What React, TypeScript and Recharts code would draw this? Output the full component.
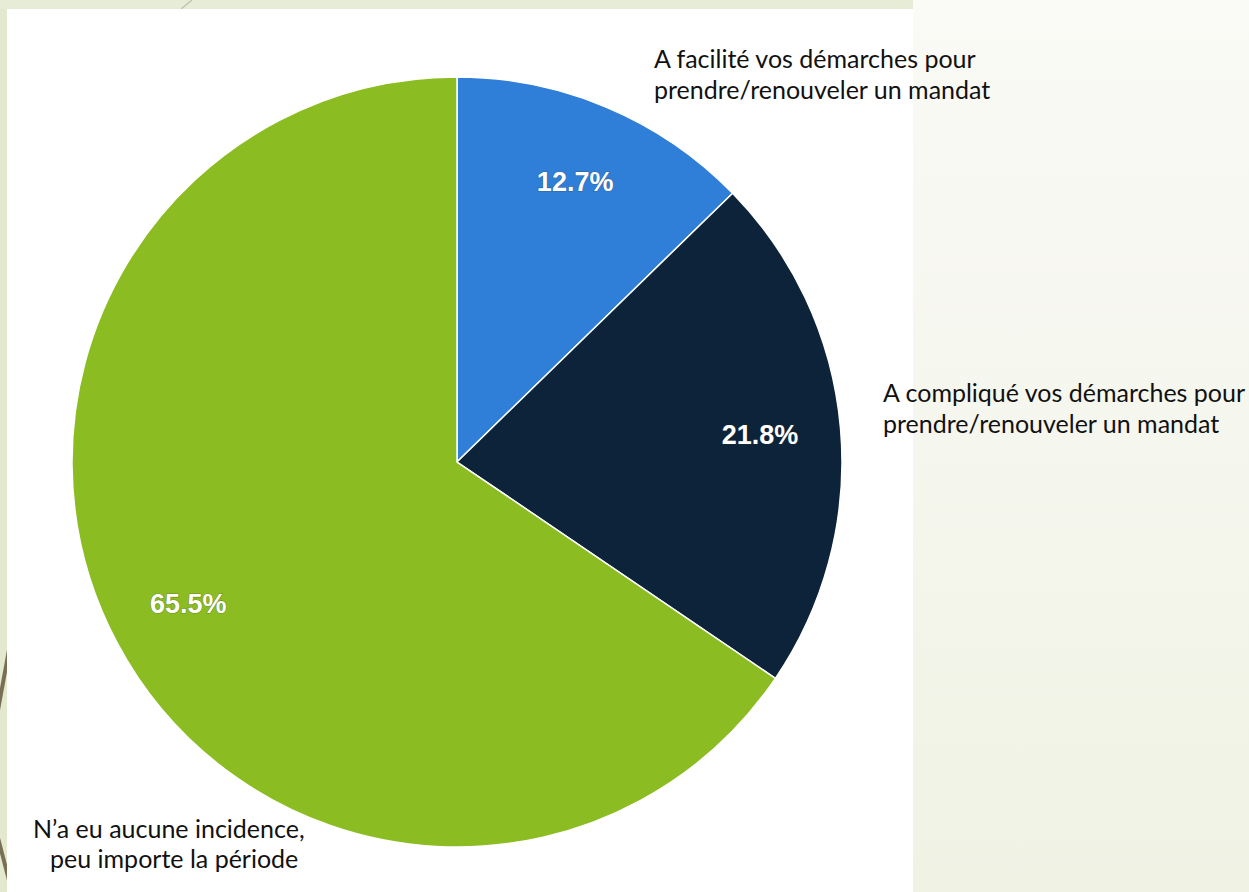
import { PieChart, Pie, Cell } from 'recharts';

const categories = [
  'A facilité vos démarches pour prendre/renouveler un mandat',
  'A compliqué vos démarches pour prendre/renouveler un mandat',
  "N’a eu aucune incidence, peu importe la période",
];
const shares = [12.7, 21.8, 65.5];
const colors = ['#2f7ed8', '#0d233a', '#8bbc21'];

const data = categories.map((name, i) => ({ name, value: shares[i] }));

const RADIAN = Math.PI / 180;

const renderLabel = (props: any) => {
  const { cx, cy, midAngle, outerRadius, value } = props;
  const r = outerRadius * 0.79;
  const x = cx + r * Math.cos(-midAngle * RADIAN);
  const y = cy + r * Math.sin(-midAngle * RADIAN);
  return (
    <text x={x} y={y} textAnchor="middle" dominantBaseline="central"
      fill="#ffffff" stroke="#333333" strokeWidth={1.2} strokeOpacity={0.35} paintOrder="stroke"
      style={{ fontFamily: '"Liberation Sans", Arial, sans-serif', fontWeight: 700, fontSize: 27 }}>
      {value.toFixed(1)}%
    </text>
  );
};

const noteStyle = { fontFamily: 'Lato, "Open Sans", sans-serif', fontSize: 25, fill: '#111111' };

export default function App() {
  return (
    <div style={{ position: 'fixed', left: 0, top: 0, width: 1249, height: 892, overflow: 'hidden',
      background: 'linear-gradient(180deg, #fafaf6 0%, #f0f2e4 100%)' }}>
      <div style={{ position: 'absolute', left: 0, top: 0, width: 7, height: 892, background: '#e3e9cf' }} />
      <div style={{ position: 'absolute', left: 0, top: 0, width: 913, height: 9, background: '#e7ecd7' }} />
      <svg width={1249} height={892} style={{ position: 'absolute', left: 0, top: 0 }}>
        <line x1={9} y1={650} x2={-2} y2={710} stroke="#7a6f54" strokeWidth={4} />
        <line x1={-2} y1={838} x2={10} y2={884} stroke="#7a6f54" strokeWidth={4} />
        <line x1={181} y1={9} x2={192} y2={0} stroke="#c2c4b4" strokeWidth={1.5} />
      </svg>
      <div style={{ position: 'absolute', left: 7, top: 9, width: 906, height: 900, background: '#ffffff' }} />
      <PieChart width={1249} height={892} margin={{ top: 0, right: 0, bottom: 0, left: 0 }}
        style={{ position: 'absolute', left: 0, top: 0 }}>
        <Pie data={data} dataKey="value" nameKey="name" cx={457} cy={462} outerRadius={385}
          startAngle={90} endAngle={-270} stroke="#ffffff" strokeWidth={1.5}
          label={renderLabel} labelLine={false} isAnimationActive={false}>
          {data.map((d, i) => <Cell key={d.name} fill={colors[i]} />)}
        </Pie>
        <text x={654} y={68} style={noteStyle}>A facilité vos démarches pour</text>
        <text x={654} y={99} style={noteStyle}>prendre/renouveler un mandat</text>
        <text x={883} y={402} style={noteStyle}>A compliqué vos démarches pour</text>
        <text x={883} y={433} style={noteStyle}>prendre/renouveler un mandat</text>
        <text x={33} y={838} style={noteStyle}>N’a eu aucune incidence,</text>
        <text x={50} y={868} style={noteStyle}>peu importe la période</text>
      </PieChart>
    </div>
  );
}
